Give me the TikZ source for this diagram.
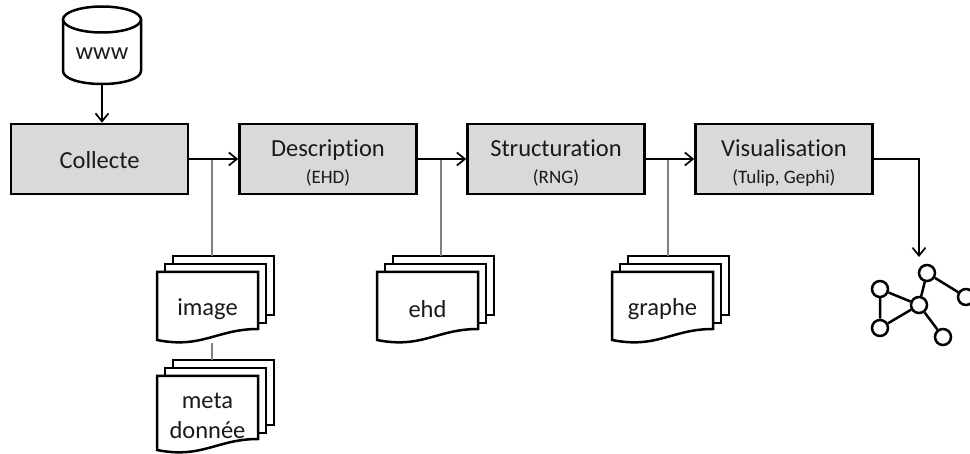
\documentclass[tikz,border=0pt]{standalone}
\usepackage{fontspec}
\setmainfont{Carlito}[Ligatures=NoCommon]
\usetikzlibrary{arrows.meta,calc}
\definecolor{boxfill}{HTML}{D9D9D9}
\definecolor{txt}{HTML}{1A1A1A}
\tikzset{
  stepbox/.style={draw=black,line width=2.6pt,fill=boxfill,minimum width=177pt,minimum height=70pt,inner sep=0pt},
  steptext/.style={inner sep=0pt,align=center,text=txt,font=\fontsize{24.5}{26}\selectfont},
  flow/.style={draw=black,line width=1.8pt,-{Straight Barb[length=8pt,width=13pt,line width=1.7pt]}},
  link/.style={draw=black!50,line width=1.2pt},
  page/.style={draw=black,line width=2.5pt,fill=white,line join=miter},
  gnode/.style={circle,draw=black,line width=2.5pt,fill=white,minimum size=16pt,inner sep=0pt},
  gedge/.style={draw=black,line width=2.5pt},
  lbl/.style={inner sep=0pt,align=center,text=txt,font=\fontsize{24.5}{29}\selectfont},
  anchorbox/.style={inner sep=0pt,outer sep=0pt,minimum width=#1,minimum height=1pt}
}
\newcommand{\subtxt}[1]{\\[1pt]{\fontsize{19}{20}\selectfont #1}}
% name, left x, top y of front sheet, height, text
\newcommand{\docstack}[5]{%
  \node[anchorbox=102pt,anchor=north west] (#1) at (#2+16,#3-16) {};
  \foreach \d in {16,8}{
    \draw[page] (#2+\d,#3-\d) -- ++(101,0) -- ++(0,#4-10) -- ++(-101,0) -- cycle;
  }
  \draw[page] (#2,#3) -- (#2+101,#3) -- (#2+101,#3+#4-12)
     .. controls (#2+60,#3+#4-12) and (#2+45,#3+#4+8) .. (#2,#3+#4-1) -- cycle;
  \node[lbl] (#1t) at (#2+50.5,#3+#4/2+2.5) {#5};
  \coordinate (#1b) at (#2+55,#3+#4+2);
}
\begin{document}
\begin{tikzpicture}[x=1pt,y=-1pt]
\useasboundingbox (0,0) rectangle (970,454);
% cylinder
\draw[page] (63,19.5) -- (63,71) .. controls (63,78.5) and (80,84) .. (102,84) .. controls (124,84) and (141,78.5) .. (141,71) -- (141,19.5);
\draw[page] (102,19.5) ellipse[x radius=39,y radius=13];
\node[lbl] (www) at (102,53.5) {www};
\coordinate (wwwb) at (102,85);
% steps
\node[stepbox] (col) at (99.5,159) {};
\node[stepbox] (des) at (328,159) {};
\node[stepbox] (stru) at (556,159) {};
\node[stepbox] (vis) at (784,159) {};
\node[steptext] (colt) at (99.5,160) {Collecte};
\node[steptext] (dest) at (328,163) {Description\subtxt{(EHD)}};
\node[steptext] (strut) at (556,163) {Structuration\subtxt{(RNG)}};
\node[steptext] (vist) at (784,163) {Visualisation\subtxt{(Tulip, Gephi)}};
\coordinate (j1) at (212,159);
\coordinate (j2) at (441,159);
\coordinate (j3) at (668,159);
% docs
\docstack{img}{157}{272}{69}{image}
\docstack{meta}{157}{376}{75}{meta\\[1pt]donnée}
\docstack{ehd}{377}{272}{69}{ehd}
\docstack{gra}{612}{272}{69}{graphe}
% links
\draw[link] (j1) -- (j1 |- img.north);
\draw[link] (j2) -- (j2 |- ehd.north);
\draw[link] (j3) -- (j3 |- gra.north);
\draw[link] (imgb) -- (meta.north -| imgb);
% flow
\draw[flow] (wwwb) -- (col.north -| wwwb);
\draw[flow] (col) -- (des);
\draw[flow] (des) -- (stru);
\draw[flow] (stru) -- (vis);
% graph
\node[gnode] (g1) at (927,273) {};
\node[gnode] (g2) at (880,289) {};
\node[gnode] (g3) at (880,328) {};
\node[gnode] (g4) at (919,305) {};
\node[gnode] (g5) at (943,337) {};
\node[gnode] (g6) at (966,297) {};
\draw[gedge] (g1)--(g4) (g2)--(g4) (g3)--(g4) (g5)--(g4) (g2)--(g3) (g1)--(g6);
\coordinate (vturn) at (919,159);
\coordinate (vend) at (919,257);
\draw[flow,draw=black] (vis.east) -- (vturn) -- (vend);
\end{tikzpicture}
\end{document}
